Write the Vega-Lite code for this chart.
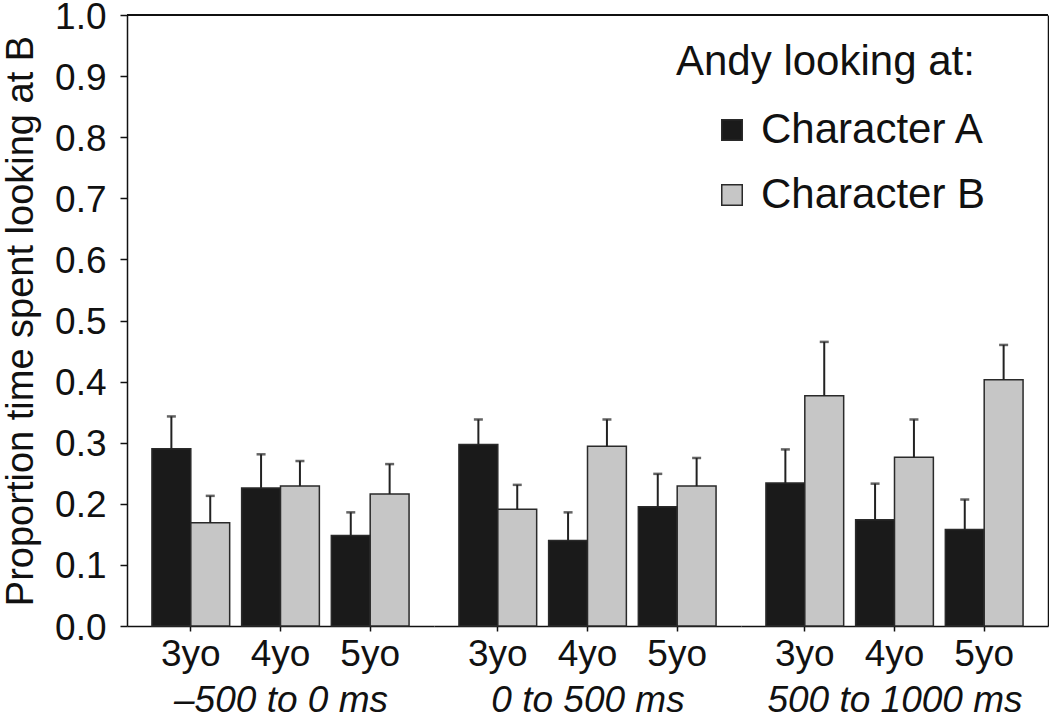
{
  "$schema": "https://vega.github.io/schema/vega-lite/v6.json",
  "background": "white",
  "padding": {"left": 2, "top": -2, "right": 0, "bottom": 0},
  "data": {"values": [
    {"window": "–500 to 0 ms", "age": "3yo", "looking": "Character A", "mean": 0.290, "upper": 0.343},
    {"window": "–500 to 0 ms", "age": "3yo", "looking": "Character B", "mean": 0.169, "upper": 0.213},
    {"window": "–500 to 0 ms", "age": "4yo", "looking": "Character A", "mean": 0.226, "upper": 0.281},
    {"window": "–500 to 0 ms", "age": "4yo", "looking": "Character B", "mean": 0.229, "upper": 0.270},
    {"window": "–500 to 0 ms", "age": "5yo", "looking": "Character A", "mean": 0.148, "upper": 0.186},
    {"window": "–500 to 0 ms", "age": "5yo", "looking": "Character B", "mean": 0.216, "upper": 0.265},
    {"window": "0 to 500 ms", "age": "3yo", "looking": "Character A", "mean": 0.297, "upper": 0.338},
    {"window": "0 to 500 ms", "age": "3yo", "looking": "Character B", "mean": 0.191, "upper": 0.231},
    {"window": "0 to 500 ms", "age": "4yo", "looking": "Character A", "mean": 0.140, "upper": 0.186},
    {"window": "0 to 500 ms", "age": "4yo", "looking": "Character B", "mean": 0.294, "upper": 0.338},
    {"window": "0 to 500 ms", "age": "5yo", "looking": "Character A", "mean": 0.195, "upper": 0.249},
    {"window": "0 to 500 ms", "age": "5yo", "looking": "Character B", "mean": 0.229, "upper": 0.275},
    {"window": "500 to 1000 ms", "age": "3yo", "looking": "Character A", "mean": 0.234, "upper": 0.289},
    {"window": "500 to 1000 ms", "age": "3yo", "looking": "Character B", "mean": 0.377, "upper": 0.465},
    {"window": "500 to 1000 ms", "age": "4yo", "looking": "Character A", "mean": 0.174, "upper": 0.233},
    {"window": "500 to 1000 ms", "age": "4yo", "looking": "Character B", "mean": 0.276, "upper": 0.338},
    {"window": "500 to 1000 ms", "age": "5yo", "looking": "Character A", "mean": 0.158, "upper": 0.207},
    {"window": "500 to 1000 ms", "age": "5yo", "looking": "Character B", "mean": 0.403, "upper": 0.460}
  ]},
  "spacing": 0,
  "bounds": "flush",
  "resolve": {"scale": {"x": "independent", "y": "independent", "color": "shared"}},
  "hconcat": [
    {
      "width": 307, "height": 611,
      "transform": [{"filter": "datum.window === '–500 to 0 ms'"}],
      "layer": [
        {
          "encoding": {
            "x": {"field": "age", "type": "nominal", "scale": {"paddingInner": 0.1333, "paddingOuter": 0.278},
                  "axis": {"title": "–500 to 0 ms"}},
            "xOffset": {"field": "looking", "type": "nominal", "sort": ["Character A", "Character B"]},
            "y": {"field": "mean", "type": "quantitative", "scale": {"domain": [0, 1], "nice": false},
                  "axis": {
                    "title": "Proportion time spent looking at B",
                    "values": [0, 0.05, 0.1, 0.15, 0.2, 0.25, 0.3, 0.35, 0.4, 0.45, 0.5, 0.55, 0.6, 0.65, 0.7, 0.75, 0.8, 0.85, 0.9, 0.95, 1.0],
                    "labelExpr": "round(datum.value*20) % 2 === 0 ? format(datum.value, '.1f') : ''",
                    "tickSize": {"condition": {"test": "round(datum.value*20) % 2 === 0", "value": 7}, "value": 3},
                    "labelOverlap": false, "grid": false,
                    "labelFontSize": 37, "labelPadding": 14, "labelOffset": 2,
                    "titleFontSize": 38, "titlePadding": 14
                  }}
          },
          "layer": [
            {"mark": {"type": "bar", "stroke": "#2a2a2a", "strokeWidth": 1.5},
             "encoding": {"color": {"field": "looking", "type": "nominal",
               "scale": {"domain": ["Character A", "Character B"], "range": ["#1a1a1a", "#c6c6c6"]},
               "legend": {"title": "Andy looking at:"}}}},
            {"mark": {"type": "rule", "color": "#222", "strokeWidth": 2}, "encoding": {"y2": {"field": "upper"}}},
            {"mark": {"type": "tick", "color": "#222", "thickness": 2.5, "size": 9},
             "encoding": {"y": {"field": "upper", "type": "quantitative"}}}
          ]
        },
        {"mark": {"type": "rule", "color": "#111", "strokeWidth": 1.5},
         "encoding": {"y": {"datum": 1, "type": "quantitative"}}}
      ]
    },
    {
      "width": 307, "height": 611,
      "transform": [{"filter": "datum.window === '0 to 500 ms'"}],
      "layer": [
        {
          "encoding": {
            "x": {"field": "age", "type": "nominal", "scale": {"paddingInner": 0.1333, "paddingOuter": 0.278},
                  "axis": {"title": "0 to 500 ms"}},
            "xOffset": {"field": "looking", "type": "nominal", "sort": ["Character A", "Character B"]},
            "y": {"field": "mean", "type": "quantitative", "scale": {"domain": [0, 1], "nice": false}, "axis": null}
          },
          "layer": [
            {"mark": {"type": "bar", "stroke": "#2a2a2a", "strokeWidth": 1.5},
             "encoding": {"color": {"field": "looking", "type": "nominal",
               "scale": {"domain": ["Character A", "Character B"], "range": ["#1a1a1a", "#c6c6c6"]},
               "legend": {"title": "Andy looking at:"}}}},
            {"mark": {"type": "rule", "color": "#222", "strokeWidth": 2}, "encoding": {"y2": {"field": "upper"}}},
            {"mark": {"type": "tick", "color": "#222", "thickness": 2.5, "size": 9},
             "encoding": {"y": {"field": "upper", "type": "quantitative"}}}
          ]
        },
        {"mark": {"type": "rule", "color": "#111", "strokeWidth": 1.5},
         "encoding": {"y": {"datum": 1, "type": "quantitative"}}}
      ]
    },
    {
      "width": 307, "height": 611,
      "transform": [{"filter": "datum.window === '500 to 1000 ms'"}],
      "resolve": {"scale": {"y": "independent"}},
      "layer": [
        {
          "encoding": {
            "x": {"field": "age", "type": "nominal", "scale": {"paddingInner": 0.1333, "paddingOuter": 0.278},
                  "axis": {"title": "500 to 1000 ms"}},
            "xOffset": {"field": "looking", "type": "nominal", "sort": ["Character A", "Character B"]},
            "y": {"field": "mean", "type": "quantitative", "scale": {"domain": [0, 1], "nice": false}, "axis": null}
          },
          "layer": [
            {"mark": {"type": "bar", "stroke": "#2a2a2a", "strokeWidth": 1.5},
             "encoding": {"color": {"field": "looking", "type": "nominal",
               "scale": {"domain": ["Character A", "Character B"], "range": ["#1a1a1a", "#c6c6c6"]},
               "legend": {"title": "Andy looking at:"}}}},
            {"mark": {"type": "rule", "color": "#222", "strokeWidth": 2}, "encoding": {"y2": {"field": "upper"}}},
            {"mark": {"type": "tick", "color": "#222", "thickness": 2.5, "size": 9},
             "encoding": {"y": {"field": "upper", "type": "quantitative"}}}
          ]
        },
        {"mark": {"type": "rule", "color": "#111", "strokeWidth": 1.5},
         "encoding": {"y": {"datum": 1, "type": "quantitative", "scale": {"domain": [0, 1], "nice": false},
           "axis": {"orient": "right", "labels": false, "ticks": false, "title": null, "grid": false}}}}
      ]
    }
  ],
  "config": {
    "view": {"stroke": null},
    "font": "Liberation Sans",
    "axis": {
      "labelFont": "Liberation Sans", "labelColor": "#111", "titleFont": "Liberation Sans", "titleColor": "#111",
      "titleFontWeight": "normal", "tickColor": "#111", "tickWidth": 1.5, "domainColor": "#111", "domainWidth": 1.5
    },
    "axisX": {
      "labelAngle": 0, "labelFontSize": 37, "tickSize": 5, "labelPadding": 5,
      "titleFontSize": 37, "titleFontStyle": "italic", "titlePadding": 10
    },
    "legend": {
      "orient": "none", "legendX": 549, "legendY": 27,
      "padding": 0, "titleFont": "Liberation Sans", "titleFontSize": 42, "titleFontWeight": "normal",
      "titleColor": "#111", "titlePadding": 25, "titleLimit": 600, "labelFont": "Liberation Sans", "labelFontSize": 42,
      "labelColor": "#111", "labelOffset": 8, "labelLimit": 600, "symbolType": "square", "symbolSize": 420,
      "symbolStrokeColor": "#2a2a2a", "symbolStrokeWidth": 1.5, "symbolOffset": 35, "rowPadding": 23
    }
  }
}
